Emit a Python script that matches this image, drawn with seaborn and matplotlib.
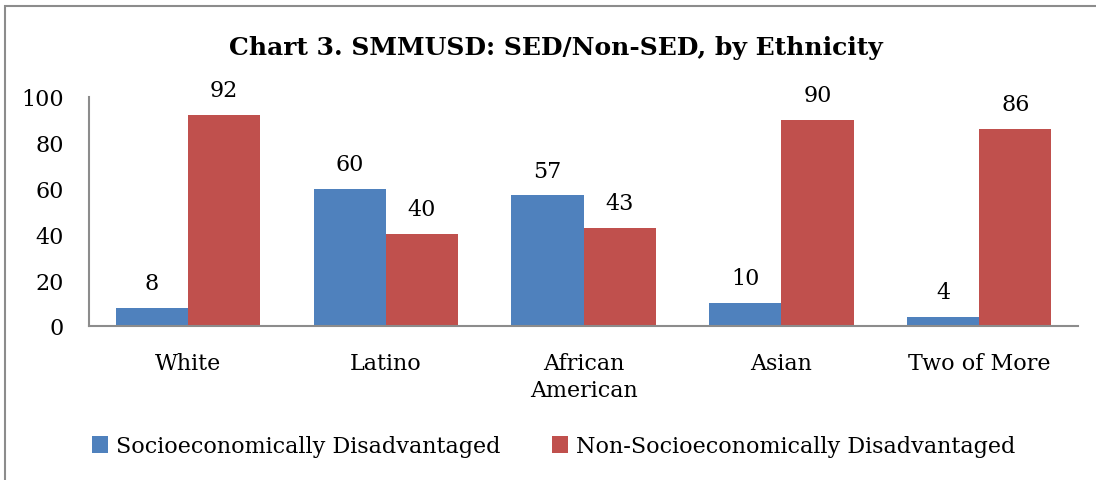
import pandas as pd
import matplotlib.pyplot as plt
import seaborn as sns
from matplotlib.patches import Rectangle

# data
ethnicity = ['White', 'Latino', 'African\nAmerican', 'Asian', 'Two of More']
sed = [8, 60, 57, 10, 4]
non_sed = [92, 40, 43, 90, 86]
groups = ['Socioeconomically Disadvantaged', 'Non-Socioeconomically Disadvantaged']

df = pd.DataFrame({
    'ethnicity': ethnicity * 2,
    'value': sed + non_sed,
    'group': [groups[0]] * 5 + [groups[1]] * 5,
})

sns.set_style('white')
plt.rcParams['font.family'] = ['DejaVu Serif']
plt.rcParams['text.color'] = 'black'
plt.rcParams['xtick.color'] = 'black'
plt.rcParams['ytick.color'] = 'black'

fig = plt.figure(figsize=(10.96, 4.81), dpi=100)
ax = fig.add_axes([0.0812, 0.3202, 0.9024, 0.4761])

sns.barplot(data=df, x='ethnicity', y='value', hue='group',
            palette=['#4F81BD', '#C0504D'], width=0.73, gap=0,
            saturation=1, linewidth=0, ax=ax, legend=True)

for c in ax.containers:
    ax.bar_label(c, padding=10, fontsize=16, color='black')

ax.set_ylim(0, 100)
ax.set_yticks(range(0, 101, 20))
ax.set_xlim(-0.5, 4.5)
ax.set_xlabel('')
ax.set_ylabel('')
ax.tick_params(axis='both', labelsize=16, length=0)
ax.tick_params(axis='x', pad=19)
ax.tick_params(axis='y', pad=18)
for lab in ax.get_xticklabels():
    lab.set_linespacing(1.25)
    lab.set_verticalalignment('top')

for s in ['top', 'right']:
    ax.spines[s].set_visible(False)
for s in ['left', 'bottom']:
    ax.spines[s].set_color('#8c8c8c')
    ax.spines[s].set_linewidth(1.5)

fig.text(0.507, 0.90, 'Chart 3. SMMUSD: SED/Non-SED, by Ethnicity',
         ha='center', va='center', fontsize=18, fontweight='bold', color='black')

ax.legend_.remove()
fig.legend(*ax.get_legend_handles_labels(), loc='center', ncol=2,
           bbox_to_anchor=(0.505, 0.07), frameon=False, fontsize=16,
           handlelength=0.75, handleheight=0.75, handletextpad=0.35,
           columnspacing=2.3)

# outer chart border
fig.patches.append(Rectangle((0.005, -0.1), 1.2, 1.085, transform=fig.transFigure,
                             fill=False, edgecolor='#8c8c8c', linewidth=1.5))

fig.savefig('out.png', dpi=100, facecolor='white')
